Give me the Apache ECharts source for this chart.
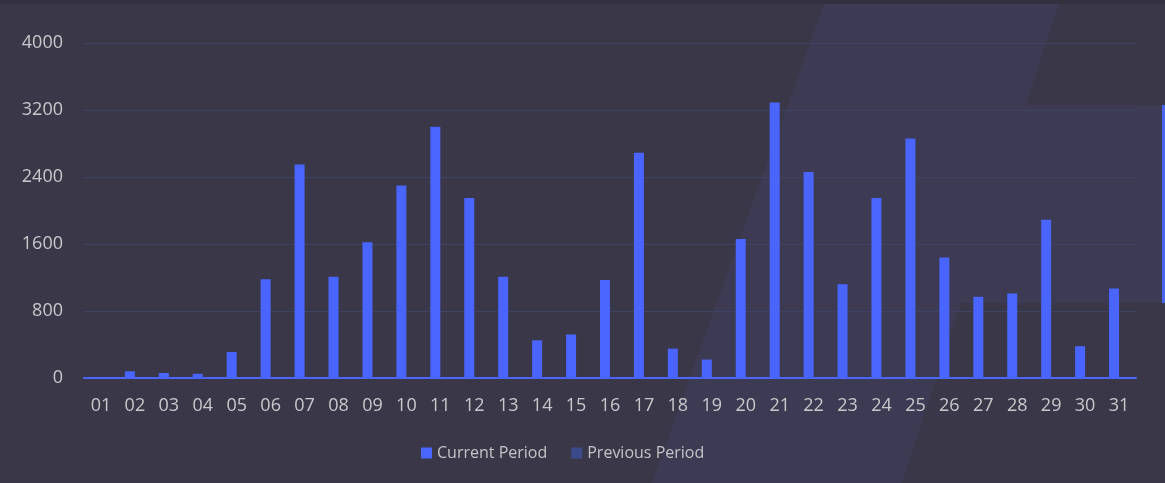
<!DOCTYPE html>
<html>
    <head>
        <meta charset="utf-8">
        <script src="https://cdn.jsdelivr.net/npm/echarts@6/dist/echarts.min.js"></script>
    </head>
    <body style="margin:0">
        <style>
            html, body, #main {
                width: 100%;
                height: 100%;
                margin: 0;
            }
        </style>
        <div id="main"></div>
        <script>
            var days = ['01', '02', '03', '04', '05', '06', '07', '08', '09', '10', '11', '12', '13', '14', '15', '16',
                '17', '18', '19', '20', '21', '22', '23', '24', '25', '26', '27', '28', '29', '30', '31'];
            var currentPeriod = [0, 80, 60, 50, 310, 1180, 2550, 1210, 1620, 2300, 3000, 2150, 1210, 450, 520, 1170,
                2690, 350, 220, 1660, 3290, 2460, 1120, 2150, 2860, 1440, 970, 1010, 1890, 380, 1070];
            var previousPeriod = [0, 0, 0, 0, 0, 0, 0, 0, 0, 0, 0, 0, 0, 0, 0, 0,
                0, 0, 0, 0, 0, 0, 0, 0, 0, 0, 0, 0, 0, 0, 0];

            var chart = echarts.init(document.getElementById('main'));

            chart.setOption({
                backgroundColor: '#3a3848',
                animation: false,
                // page decoration behind the chart
                graphic: [{
                    type: 'rect',
                    z: -10,
                    shape: { x: 0, y: 0, width: 1165, height: 4 },
                    style: { fill: '#33313f' }
                }, {
                    type: 'polygon',
                    z: -10,
                    shape: { points: [[824, 4], [1059, 4], [902, 483], [652, 483]] },
                    style: { fill: '#3c3b53' }
                }, {
                    type: 'rect',
                    z: -10,
                    shape: { x: 960, y: 105, width: 205, height: 198 },
                    style: { fill: '#3c3b53' }
                }, {
                    type: 'rect',
                    z: -9,
                    shape: { x: 1162, y: 105, width: 3, height: 198 },
                    style: { fill: '#4a63f2' }
                }],
                legend: {
                    left: 416,
                    top: 440,
                    itemWidth: 11,
                    itemHeight: 11,
                    itemGap: 24,
                    icon: 'rect',
                    textStyle: {
                        color: '#c4c4c8',
                        fontSize: 16,
                        fontFamily: 'Open Sans'
                    },
                    data: ['Current Period', 'Previous Period']
                },
                grid: {
                    left: 84,
                    right: 29,
                    top: 43,
                    bottom: 105,
                    containLabel: false
                },
                xAxis: {
                    type: 'category',
                    data: days,
                    axisLine: {
                        lineStyle: { color: '#4a66ff', width: 2 }
                    },
                    axisTick: { show: false },
                    axisLabel: {
                        color: '#c8c8cc',
                        fontSize: 18,
                        fontFamily: 'Open Sans',
                        margin: 19,
                        interval: 0
                    }
                },
                yAxis: {
                    type: 'value',
                    min: 0,
                    max: 4000,
                    interval: 800,
                    axisLine: { show: false },
                    axisTick: { show: false },
                    axisLabel: {
                        color: '#c8c8cc',
                        fontSize: 18,
                        fontFamily: 'Open Sans',
                        margin: 21,
                        formatter: function (v) { return String(v); }
                    },
                    splitLine: {
                        lineStyle: { color: '#3e4265', width: 1 }
                    }
                },
                series: [{
                    name: 'Current Period',
                    type: 'bar',
                    barWidth: 10,
                    barGap: '0%',
                    itemStyle: { color: '#4965fe' },
                    data: currentPeriod
                }, {
                    name: 'Previous Period',
                    type: 'bar',
                    barWidth: 10,
                    itemStyle: { color: '#3c4a8c' },
                    data: previousPeriod
                }]
            });

            window.onresize = chart.resize;
        </script>
    </body>
</html>
